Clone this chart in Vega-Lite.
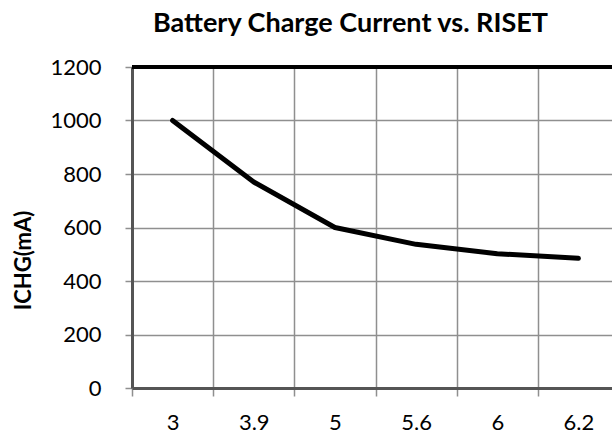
{
  "$schema": "https://vega.github.io/schema/vega-lite/v6.json",
  "autosize": {"type": "none"},
  "padding": {"left": 132, "top": 67, "right": 0, "bottom": 49},
  "width": 487,
  "height": 321,
  "background": "white",
  "title": {
    "text": "Battery Charge Current vs. RISET",
    "font": "Lato",
    "fontSize": 27,
    "fontWeight": "bold",
    "color": "#000000",
    "anchor": "middle",
    "dx": -25,
    "offset": 18
  },
  "config": {
    "view": {"stroke": null},
    "axis": {
      "labelFont": "Lato",
      "labelFontSize": 22,
      "labelColor": "#000000",
      "titleFont": "Lato",
      "titleFontSize": 22,
      "titleFontWeight": "bold",
      "titleColor": "#000000",
      "gridColor": "#8f8f8f",
      "gridWidth": 1.5,
      "gridOpacity": 1,
      "domainColor": "#555555",
      "domainWidth": 3,
      "tickColor": "#8f8f8f",
      "tickWidth": 1.5
    }
  },
  "data": {
    "values": [
      {"riset": "3", "ichg": 1000},
      {"riset": "3.9", "ichg": 770},
      {"riset": "5", "ichg": 600},
      {"riset": "5.6", "ichg": 537},
      {"riset": "6", "ichg": 502},
      {"riset": "6.2", "ichg": 485}
    ]
  },
  "layer": [
    {
      "mark": {"type": "line", "color": "#000000", "strokeWidth": 5, "strokeCap": "round", "strokeJoin": "round"},
      "encoding": {
        "x": {
          "field": "riset",
          "type": "ordinal",
          "sort": null,
          "scale": {"paddingInner": 0, "paddingOuter": 0},
          "axis": {
            "title": null,
            "labelAngle": 0,
            "grid": true,
            "tickBand": "extent",
            "tickSize": 8,
            "labelPadding": 16
          }
        },
        "y": {
          "field": "ichg",
          "type": "quantitative",
          "scale": {"domain": [0, 1200], "nice": false},
          "axis": {
            "title": "ICHG(mA)",
            "format": "d",
            "values": [0, 200, 400, 600, 800, 1000, 1200],
            "tickSize": 7,
            "labelPadding": 24,
            "titlePadding": 14,
            "titleY": 193
          }
        }
      }
    },
    {
      "mark": {"type": "rule", "color": "#000000", "strokeWidth": 3.5},
      "encoding": {"y": {"datum": 1200}}
    }
  ]
}
